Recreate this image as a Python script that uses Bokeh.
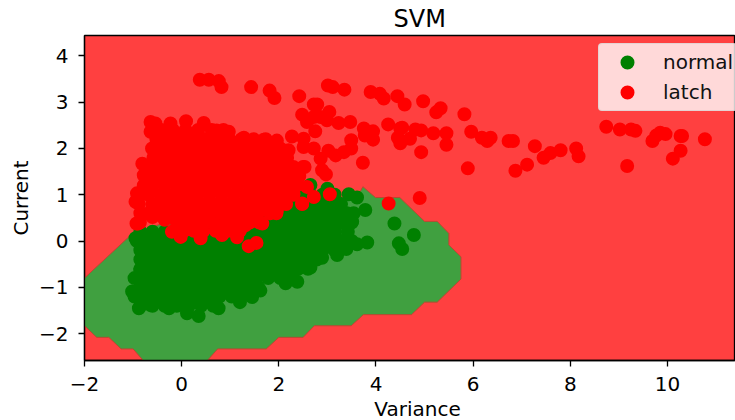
from bokeh.embed import file_html
from bokeh.resources import INLINE
from bokeh.plotting import figure
from bokeh.models import Legend, LegendItem, Title, Range1d, FixedTicker, Label

TITLE = "SVM"
X_LABEL = "Variance"
Y_LABEL = "Current"
X_TICKS = [-2, 0, 2, 4, 6, 8, 10]
Y_TICKS = [-2, -1, 0, 1, 2, 3, 4]

region_x = [-2.0, -0.985, 0.0, 1.5, 2.5, 3.61, 3.73, 3.99, 4.49, 5.0, 5.26, 5.5, 5.5, 5.75, 5.75,
            5.26, 5.0, 4.73, 3.74, 3.49, 2.73, 2.5, 2.0, 1.74, 0.74, 0.53, -0.79, -1.0, -1.245,
            -1.5, -1.75, -2.0]
region_y = [-0.8, 0.19, 0.5, 0.75, 0.94, 0.94, 1.175, 0.94, 0.94, 0.425, 0.425, 0.165, -0.085, -0.34, -0.82,
            -1.32, -1.32, -1.59, -1.59, -1.83, -1.83, -2.08, -2.08, -2.33, -2.33, -2.58, -2.58, -2.33, -2.33,
            -2.08, -2.08, -1.83]

normal_x = [
    -0.95, -0.85, -1.02, -0.88, -0.64, -0.26, 0.11, 0.35, 0.76, 1.2, 1.45, 1.62, 2.14, 2.38, 2.65, 2.89,
    3.2, 3.39, 3.61, 3.82, 3.78, 3.54, 3.51, 3.44, 3.61, 3.1, 2.86, 4.38, 4.78, 4.47, 4.54, 3.0, 2.65,
    -0.85, -0.6, -0.35, -0.1, 0.15, 0.4, 0.65,
    -0.97, -0.72, -0.47, -0.22, 0.03, 0.28, 0.53, 0.78, 1.03, 1.22,
    -0.85, -0.6, -0.35, -0.1, 0.15, 0.4, 0.65, 0.9, 1.15, 1.4, 1.58,
    -0.97, -0.72, -0.47, -0.22, 0.03, 0.28, 0.53, 0.78, 1.03, 1.28, 1.53, 1.78, 2.03, 2.25,
    -0.85, -0.6, -0.35, -0.1, 0.15, 0.4, 0.65, 0.9, 1.15, 1.4, 1.65, 1.9, 2.15, 2.4, 2.6,
    -0.85, -0.72, -0.47, -0.22, 0.03, 0.28, 0.53, 0.78, 1.03, 1.28, 1.53, 1.78, 2.03, 2.28, 2.53, 2.78,
    -0.85, -0.6, -0.35, -0.1, 0.15, 0.4, 0.65, 0.9, 1.15, 1.4, 1.65, 1.9, 2.15, 2.4, 2.65, 2.9, 3.15,
    -0.92, -0.72, -0.47, -0.22, 0.03, 0.28, 0.53, 0.78, 1.03, 1.28, 1.53, 1.78, 2.03, 2.28, 2.53, 2.78, 3.03, 3.28, 3.5,
    -0.85, -0.6, -0.35, -0.1, 0.15, 0.4, 0.65, 0.9, 1.15, 1.4, 1.65, 1.9, 2.15, 2.4, 2.65, 2.9, 3.15, 3.42,
    1.28, 1.53, 1.78, 2.03, 2.28, 2.53, 2.78, 3.03, 3.28, 3.5,
    1.65, 1.9, 2.15, 2.4, 2.65, 2.9, 3.15, 3.4,
    2.03, 2.28, 2.53, 2.78, 3.03, 3.28,
    2.4, 2.65, 2.9, 3.15,
]
normal_y = [
    0.06, -0.63, -1.09, -1.45, -1.38, -1.45, -1.56, -1.62, -1.45, -1.32, -1.21, -1.07, -0.91, -0.88, -0.57, -0.36,
    -0.3, -0.17, -0.07, -0.03, 0.67, 0.6, 0.42, 1.01, 0.94, 0.81, -0.16, 0.38, 0.13, -0.05, -0.17, 1.13, 1.21,
    -1.4, -1.4, -1.4, -1.4, -1.4, -1.4, -1.4,
    -1.2, -1.2, -1.2, -1.2, -1.2, -1.2, -1.2, -1.2, -1.2, -1.2,
    -1.0, -1.0, -1.0, -1.0, -1.0, -1.0, -1.0, -1.0, -1.0, -1.0, -1.0,
    -0.8, -0.8, -0.8, -0.8, -0.8, -0.8, -0.8, -0.8, -0.8, -0.8, -0.8, -0.8, -0.8, -0.8,
    -0.6, -0.6, -0.6, -0.6, -0.6, -0.6, -0.6, -0.6, -0.6, -0.6, -0.6, -0.6, -0.6, -0.6, -0.6,
    -0.4, -0.4, -0.4, -0.4, -0.4, -0.4, -0.4, -0.4, -0.4, -0.4, -0.4, -0.4, -0.4, -0.4, -0.4, -0.4,
    -0.2, -0.2, -0.2, -0.2, -0.2, -0.2, -0.2, -0.2, -0.2, -0.2, -0.2, -0.2, -0.2, -0.2, -0.2, -0.2, -0.2,
    0.0, 0.0, 0.0, 0.0, 0.0, 0.0, 0.0, 0.0, 0.0, 0.0, 0.0, 0.0, 0.0, 0.0, 0.0, 0.0, 0.0, 0.0, 0.0,
    0.2, 0.2, 0.2, 0.2, 0.2, 0.2, 0.2, 0.2, 0.2, 0.2, 0.2, 0.2, 0.2, 0.2, 0.2, 0.2, 0.2, 0.2,
    0.4, 0.4, 0.4, 0.4, 0.4, 0.4, 0.4, 0.4, 0.4, 0.4,
    0.6, 0.6, 0.6, 0.6, 0.6, 0.6, 0.6, 0.6,
    0.8, 0.8, 0.8, 0.8, 0.8, 0.8,
    1.0, 1.0, 1.0, 1.0,
]

latch_x = [
    0.373, 0.558, 0.764, 0.82, 1.43, 1.81, 1.91, 2.42, 3.01, 3.11, 3.35, 3.89, 4.08, 4.16, 4.44, 4.59, 4.97,
    5.33, 5.24, 5.82, 2.72, 2.79, 2.48, 3.04, 2.58, 2.72, 2.86, 2.99, 2.75, 3.23, 3.47, 3.75, 3.94, 3.77,
    3.94, 4.25, 4.5, 3.49, 3.49, 3.34, 3.17, 3.02, 3.73, 2.27, 2.51, 2.72, 2.51, 2.86, 2.89, 2.97, 2.53,
    2.72, 3.05, 4.26, 2.58, 2.48, 4.54, 4.81, 4.93, 5.18, 5.45, 5.96, 4.45, 4.7, 4.5, 5.45, 4.93, 5.89,
    6.18, 6.29, 6.36, 6.73, 6.82, 7.27, 6.87, 7.11, 7.45, 7.59, 7.8, 8.12, 8.17, 8.74, 9.02, 9.25, 9.34,
    9.17, 9.69, 9.77, 9.85, 9.96, 10.27, 10.3, 10.77, 10.27, 10.11, 4.9,
    -0.64, -0.54, -0.64, -0.23, 0.09, 0.455, 0.72, 0.97, 1.28, 1.69, 1.96, 2.2, -0.61, -0.81, -0.78, -0.92,
    -0.95, -0.93, -0.9, -0.2, -0.02, 0.39, 0.83, 1.14, 1.38, 1.54, 1.31, 1.66, 1.96, 2.48, 2.3,
    -0.42, -0.18, 0.08, 0.34, 0.62, 0.86,
    -0.52, -0.27, -0.02, 0.23, 0.48, 0.73, 0.98, 1.23, 1.48, 1.73,
    -0.42, -0.17, 0.08, 0.33, 0.58, 0.83, 1.08, 1.33, 1.58, 1.83, 2.03,
    -0.58, -0.33, -0.08, 0.17, 0.42, 0.67, 0.92, 1.17, 1.42, 1.67, 1.92, 2.17,
    -0.62, -0.45, -0.2, 0.05, 0.3, 0.55, 0.8, 1.05, 1.3, 1.55, 1.8, 2.05, 2.3, 2.5,
    -0.75, -0.52, -0.27, -0.02, 0.23, 0.48, 0.73, 0.98, 1.23, 1.48, 1.73, 1.98, 2.23, 2.42,
    -0.78, -0.6, -0.35, -0.1, 0.15, 0.4, 0.65, 0.9, 1.15, 1.4, 1.65, 1.9, 2.15, 2.36,
    -0.9, -0.68, -0.43, -0.18, 0.07, 0.32, 0.57, 0.82, 1.07, 1.32, 1.57, 1.82, 2.07, 2.3,
    -0.88, -0.6, -0.35, -0.1, 0.15, 0.4, 0.65, 0.9, 1.15, 1.4, 1.65, 1.9, 2.15,
    -0.85, -0.68, -0.43, -0.18, 0.07, 0.32, 0.57, 0.82, 1.07, 1.32, 1.57, 1.82, 1.95,
    -0.86, -0.6, -0.35, -0.1, 0.15, 0.4, 0.65, 0.9, 1.15, 1.4, 1.6,
    -0.15, 0.05, 0.25, 0.45, 0.7, 0.95, 1.2,
]
latch_y = [
    3.485, 3.485, 3.455, 3.325, 3.325, 3.25, 3.09, 3.13, 3.36, 3.325, 3.27, 3.22, 3.18, 3.08, 3.13, 2.95, 3.02,
    2.87, 2.78, 2.74, 2.95, 2.95, 2.73, 2.79, 2.57, 2.68, 2.68, 2.61, 2.37, 2.55, 2.57, 2.43, 2.37, 2.28,
    2.19, 2.52, 2.43, 2.18, 2.0, 1.92, 1.85, 1.95, 1.69, 2.26, 2.21, 2.0, 2.03, 1.78, 1.53, 1.44, 1.6,
    0.95, 1.01, 0.81, 1.17, 0.8, 2.45, 2.41, 2.39, 2.33, 2.33, 2.36, 2.23, 2.21, 2.11, 2.08, 1.92, 1.57,
    2.23, 2.16, 2.23, 2.16, 2.16, 2.05, 1.52, 1.65, 1.8, 1.9, 1.96, 2.0, 1.83, 2.47, 2.41, 2.41, 2.38,
    1.62, 2.16, 2.28, 2.34, 2.31, 2.27, 2.27, 2.2, 1.95, 1.78, 0.93,
    2.57, 2.54, 2.36, 2.54, 2.59, 2.55, 2.39, 2.36, 2.23, 2.19, 2.17, 1.96, 2.0, 1.67, 1.42, 1.03,
    0.85, 0.38, 0.38, 0.2, 0.09, 0.06, 0.13, 0.08, -0.11, -0.04, 0.34, 0.38, 0.67, 0.81, 1.03,
    2.4, 2.4, 2.4, 2.4, 2.4, 2.4,
    2.2, 2.2, 2.2, 2.2, 2.2, 2.2, 2.2, 2.2, 2.2, 2.2,
    2.0, 2.0, 2.0, 2.0, 2.0, 2.0, 2.0, 2.0, 2.0, 2.0, 2.0,
    1.8, 1.8, 1.8, 1.8, 1.8, 1.8, 1.8, 1.8, 1.8, 1.8, 1.8, 1.8,
    1.6, 1.6, 1.6, 1.6, 1.6, 1.6, 1.6, 1.6, 1.6, 1.6, 1.6, 1.6, 1.6, 1.6,
    1.4, 1.4, 1.4, 1.4, 1.4, 1.4, 1.4, 1.4, 1.4, 1.4, 1.4, 1.4, 1.4, 1.4,
    1.2, 1.2, 1.2, 1.2, 1.2, 1.2, 1.2, 1.2, 1.2, 1.2, 1.2, 1.2, 1.2, 1.2,
    1.0, 1.0, 1.0, 1.0, 1.0, 1.0, 1.0, 1.0, 1.0, 1.0, 1.0, 1.0, 1.0, 1.0,
    0.8, 0.8, 0.8, 0.8, 0.8, 0.8, 0.8, 0.8, 0.8, 0.8, 0.8, 0.8, 0.8,
    0.6, 0.6, 0.6, 0.6, 0.6, 0.6, 0.6, 0.6, 0.6, 0.6, 0.6, 0.6, 0.6,
    0.4, 0.52, 0.46, 0.4, 0.4, 0.4, 0.4, 0.4, 0.4, 0.4, 0.4,
    0.22, 0.22, 0.22, 0.22, 0.22, 0.22, 0.22,
]

p = figure(width=735, height=420, output_backend="svg", toolbar_location=None,
           x_range=Range1d(-2.0, 11.4), y_range=Range1d(-2.58, 4.44),
           min_border_left=84, min_border_right=0, min_border_top=35, min_border_bottom=60,
           background_fill_color="#FF4040", border_fill_color="white")
p.grid.visible = False
p.outline_line_color = "black"
p.outline_line_width = 1.3

p.title = Title(text=TITLE, align="left", offset=309, text_font="DejaVu Sans",
                text_font_size="24px", text_font_style="normal", text_color="black", standoff=5)

for ax, ticks, standoff in ((p.xaxis[0], X_TICKS, 10), (p.yaxis[0], Y_TICKS, 10)):
    ax.ticker = FixedTicker(ticks=ticks)
    ax.minor_tick_line_color = None
    ax.major_tick_out = 6
    ax.major_tick_in = 0
    ax.major_tick_line_color = "black"
    ax.major_tick_line_width = 1.3
    ax.axis_line_color = "black"
    ax.axis_line_width = 1.3
    ax.major_label_text_font = "DejaVu Sans"
    ax.major_label_text_font_size = "20px"
    ax.major_label_text_color = "black"
    ax.major_label_standoff = standoff
p.yaxis[0].axis_label = Y_LABEL
p.yaxis[0].axis_label_text_font = "DejaVu Sans"
p.yaxis[0].axis_label_text_font_size = "20px"
p.yaxis[0].axis_label_text_font_style = "normal"
p.yaxis[0].axis_label_text_color = "black"
p.yaxis[0].axis_label_standoff = 3
p.yaxis[0].major_label_orientation = "horizontal"

p.add_layout(Label(x=417, y=408, x_units="canvas", y_units="canvas", text=X_LABEL,
                   text_font="DejaVu Sans", text_font_size="20px", text_color="black",
                   text_align="center", text_baseline="middle"), "below")

p.patch(region_x, region_y, fill_color="#40A040", line_color="#B84A30", line_width=1)
r_normal = p.scatter(normal_x, normal_y, size=12, color="#008000", line_width=2)
r_latch = p.scatter(latch_x, latch_y, size=12, color="#FF0000", line_width=2)

legend = Legend(items=[LegendItem(label="normal", renderers=[r_normal]),
                       LegendItem(label="latch", renderers=[r_latch])],
                location=(514, 249), orientation="vertical", margin=0, padding=3, spacing=0,
                glyph_width=50, glyph_height=30, label_standoff=11, label_height=30,
                background_fill_color="white", background_fill_alpha=0.8,
                border_line_color="#CCCCCC", border_line_width=1.3,
                label_text_font="DejaVu Sans", label_text_font_size="20px", label_text_color="#111111")
if "border_radius" in Legend.properties():
    legend.border_radius = 4
p.add_layout(legend)

assert len(normal_x) == len(normal_y)
assert len(latch_x) == len(latch_y)
open("out.html", "w").write(file_html(p, INLINE))
